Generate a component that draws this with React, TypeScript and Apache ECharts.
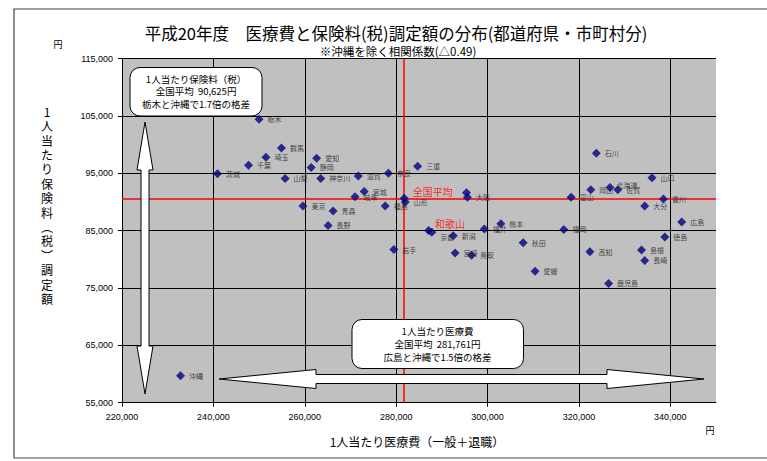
import React, { useEffect, useRef } from 'react';
import * as echarts from 'echarts';

// ---- data ----
const prefNames = [
  '栃木', '群馬', '埼玉', '千葉', '茨城', '愛知', '静岡', '山梨', '神奈川', '滋賀',
  '奈良', '三重', '宮城', '岐阜', '東京', '青森', '福島', '山形', '長野', '岩手',
  '和歌山', '京都', '新潟', '宮崎', '鳥取', '福井', '熊本', '秋田', '愛媛', '福岡',
  '大阪', '兵庫', '石川', '富山', '岡山', '北海道', '佐賀', '山口', '大分', '香川',
  '広島', '徳島', '高知', '島根', '長崎', '鹿児島', '沖縄',
];
const medicalCost = [
  250000, 254900, 251500, 247700, 240900, 262600, 261400, 255700, 263500, 271700,
  278300, 284700, 273000, 271000, 259600, 266200, 277600, 282000, 265100, 279500,
  287100, 287800, 292500, 292900, 296500, 299300, 302900, 307800, 310400, 316700,
  295600, 295400, 323800, 318300, 322600, 326800, 328500, 336000, 334400, 338500,
  342500, 338800, 322400, 333700, 334400, 326500, 232800,
];
const premium = [
  104400, 99400, 97800, 96400, 94900, 97600, 96000, 94100, 94100, 94500,
  95000, 96200, 91800, 90900, 89300, 88400, 89300, 90000, 85900, 81700,
  85000, 84700, 84100, 81100, 80700, 85300, 86200, 82900, 77900, 85200,
  90800, 91600, 98500, 90800, 92100, 92500, 92100, 94200, 89300, 90500,
  86500, 83900, 81300, 81600, 79800, 75800, 59700,
];
const nationalAvgName = '全国平均';
const nationalAvgCost = 281761;
const nationalAvgPremium = 90625;

const xMin = 220000;
const xMax = 350000;
const xStep = 20000;
const yMin = 55000;
const yMax = 115000;
const yStep = 10000;

const titleText = '平成20年度　医療費と保険料(税)調定額の分布(都道府県・市町村分)';
const subtitleText = '※沖縄を除く相関係数(△0.49)';
const yAxisTitle = '1人当たり保険料︵税︶調定額';
const xAxisTitle = '1人当たり医療費（一般＋退職）';
const unitText = '円';
const premiumBoxLines = ['1人当たり保険料（税）', '全国平均  90,625円', '栃木と沖縄で1.7倍の格差'];
const costBoxLines = ['1人当たり医療費', '全国平均  281,761円', '広島と沖縄で1.5倍の格差'];

const FONT = '"Noto Sans CJK JP", "Noto Sans", sans-serif';
const NUMFONT = '"Liberation Sans", Arial, sans-serif';

// label style tweaks (not data)
const labelTweaks: Record<string, any> = {
  '兵庫': { show: false },
  '京都': { offset: [0, 5] },
  '北海道': { offset: [-2, -3] },
  '和歌山': { color: '#ff0000', fontSize: 10, offset: [-2, -7] },
};

function App() {
  const ref = useRef<HTMLDivElement>(null);

  useEffect(() => {
    if (!ref.current) return;
    const chart = echarts.init(ref.current, null, { renderer: 'svg' });

    const points: any[] = prefNames.map((n, i) => {
      const item: any = { name: n, value: [medicalCost[i], premium[i]] };
      if (labelTweaks[n]) item.label = labelTweaks[n];
      return item;
    });
    points.push({
      name: nationalAvgName,
      value: [nationalAvgCost, nationalAvgPremium],
      label: { color: '#ff0000', fontSize: 10, offset: [0, -7] },
    });

    const fmt = (v: number) => v.toLocaleString('en-US');

    const vArrow = [
      [145, 122], [153, 170], [149, 170], [149, 346], [153, 346], [145, 394],
      [137, 346], [141, 346], [141, 170], [137, 170],
    ];
    const hArrow = [
      [219, 379], [316, 369.5], [316, 374.5], [607, 374.5], [607, 369.5], [704, 379],
      [607, 388.5], [607, 383.5], [316, 383.5], [316, 388.5],
    ];

    const boxText = (lines: string[], cx: number, ys: number[]) =>
      lines.map((t, i) => ({
        type: 'text',
        x: cx,
        y: ys[i],
        z: 61,
        silent: true,
        style: {
          text: t,
          fill: '#000',
          font: `9.5px ${FONT}`,
          textAlign: 'center',
          textVerticalAlign: 'middle',
        },
      }));

    const option: any = {
      animation: false,
      backgroundColor: '#ffffff',
      textStyle: { fontFamily: FONT },
      grid: {
        left: 122,
        right: 51,
        top: 58.5,
        bottom: 58.3,
        show: true,
        backgroundColor: '#C0C0C0',
        borderWidth: 0,
      },
      xAxis: {
        type: 'value',
        min: xMin,
        max: xMax,
        interval: xStep,
        axisLine: { show: true, onZero: false, lineStyle: { color: '#000', width: 1 } },
        axisTick: { show: true, length: 4, lineStyle: { color: '#000' } },
        axisLabel: {
          fontSize: 9,
          fontFamily: NUMFONT,
          color: '#000',
          margin: 10,
          showMaxLabel: false,
          formatter: fmt,
        },
        splitLine: { show: true, showMaxLine: false, lineStyle: { color: '#000', width: 1 } },
      },
      yAxis: {
        type: 'value',
        min: yMin,
        max: yMax,
        interval: yStep,
        axisLine: { show: true, onZero: false, lineStyle: { color: '#000', width: 1 } },
        axisTick: { show: true, length: 4, lineStyle: { color: '#000' } },
        axisLabel: {
          fontSize: 9,
          fontFamily: NUMFONT,
          color: '#000',
          margin: 9,
          formatter: fmt,
        },
        splitLine: { show: true, lineStyle: { color: '#000', width: 1 } },
      },
      series: [
        {
          type: 'scatter',
          z: 1,
          data: [],
          markLine: {
            silent: true,
            symbol: 'none',
            z: 1,
            label: { show: false },
            lineStyle: { color: '#ff0000', type: 'solid', width: 1.5 },
            data: [{ xAxis: nationalAvgCost }, { yAxis: nationalAvgPremium }],
          },
        },
        {
          type: 'scatter',
          z: 3,
          symbol: 'diamond',
          symbolSize: [9, 9],
          itemStyle: { color: '#000080' },
          label: {
            show: true,
            position: 'right',
            distance: 4,
            formatter: '{b}',
            fontSize: 7,
            color: '#222',
            fontFamily: FONT,
          },
          data: points,
        },
      ],
      graphic: [
        {
          type: 'rect',
          silent: true,
          shape: { x: 14, y: 9, width: 800, height: 449 },
          style: { fill: 'none', stroke: '#444', lineWidth: 1.2 },
          z: -10,
        },
        {
          type: 'text',
          x: 396,
          y: 32.5,
          silent: true,
          style: {
            text: titleText,
            fill: '#000',
            font: `16.5px ${FONT}`,
            textAlign: 'center',
            textVerticalAlign: 'middle',
          },
        },
        {
          type: 'text',
          x: 398,
          y: 51,
          silent: true,
          style: {
            text: subtitleText,
            fill: '#000',
            font: `11.5px ${FONT}`,
            textAlign: 'center',
            textVerticalAlign: 'middle',
          },
        },
        {
          type: 'text',
          x: 47,
          y: 104,
          silent: true,
          style: {
            text: yAxisTitle.split('').join('\n'),
            fill: '#000',
            font: `12px ${FONT}`,
            lineHeight: 14.4,
            textAlign: 'center',
            textVerticalAlign: 'top',
          },
        },
        {
          type: 'text',
          x: 58,
          y: 44,
          silent: true,
          style: { text: unitText, fill: '#000', font: `9px ${FONT}`, textAlign: 'center', textVerticalAlign: 'middle' },
        },
        {
          type: 'text',
          x: 710,
          y: 430,
          silent: true,
          style: { text: unitText, fill: '#000', font: `9px ${FONT}`, textAlign: 'center', textVerticalAlign: 'middle' },
        },
        {
          type: 'text',
          x: 417,
          y: 441,
          silent: true,
          style: {
            text: xAxisTitle,
            fill: '#000',
            font: `12px ${FONT}`,
            textAlign: 'center',
            textVerticalAlign: 'middle',
          },
        },
        {
          type: 'polygon',
          silent: true,
          z: 50,
          shape: { points: vArrow },
          style: { fill: '#fff', stroke: '#000', lineWidth: 1 },
        },
        {
          type: 'polygon',
          silent: true,
          z: 50,
          shape: { points: hArrow },
          style: { fill: '#fff', stroke: '#000', lineWidth: 1 },
        },
        {
          type: 'rect',
          silent: true,
          z: 60,
          shape: { x: 130, y: 67.5, width: 132, height: 48.5, r: 10 },
          style: { fill: '#fff', stroke: '#000', lineWidth: 1 },
        },
        ...boxText(premiumBoxLines, 196, [78.5, 91, 103.5]),
        {
          type: 'rect',
          silent: true,
          z: 60,
          shape: { x: 352, y: 319.5, width: 171.5, height: 49, r: 10 },
          style: { fill: '#fff', stroke: '#000', lineWidth: 1 },
        },
        ...boxText(costBoxLines, 437.5, [330.5, 343.5, 356.5]),
      ],
    };

    chart.setOption(option);
    return () => chart.dispose();
  }, []);

  return (
    <div
      ref={ref}
      style={{ position: 'absolute', left: 0, top: 0, width: 767, height: 461 }}
    />
  );
}

export default App;
